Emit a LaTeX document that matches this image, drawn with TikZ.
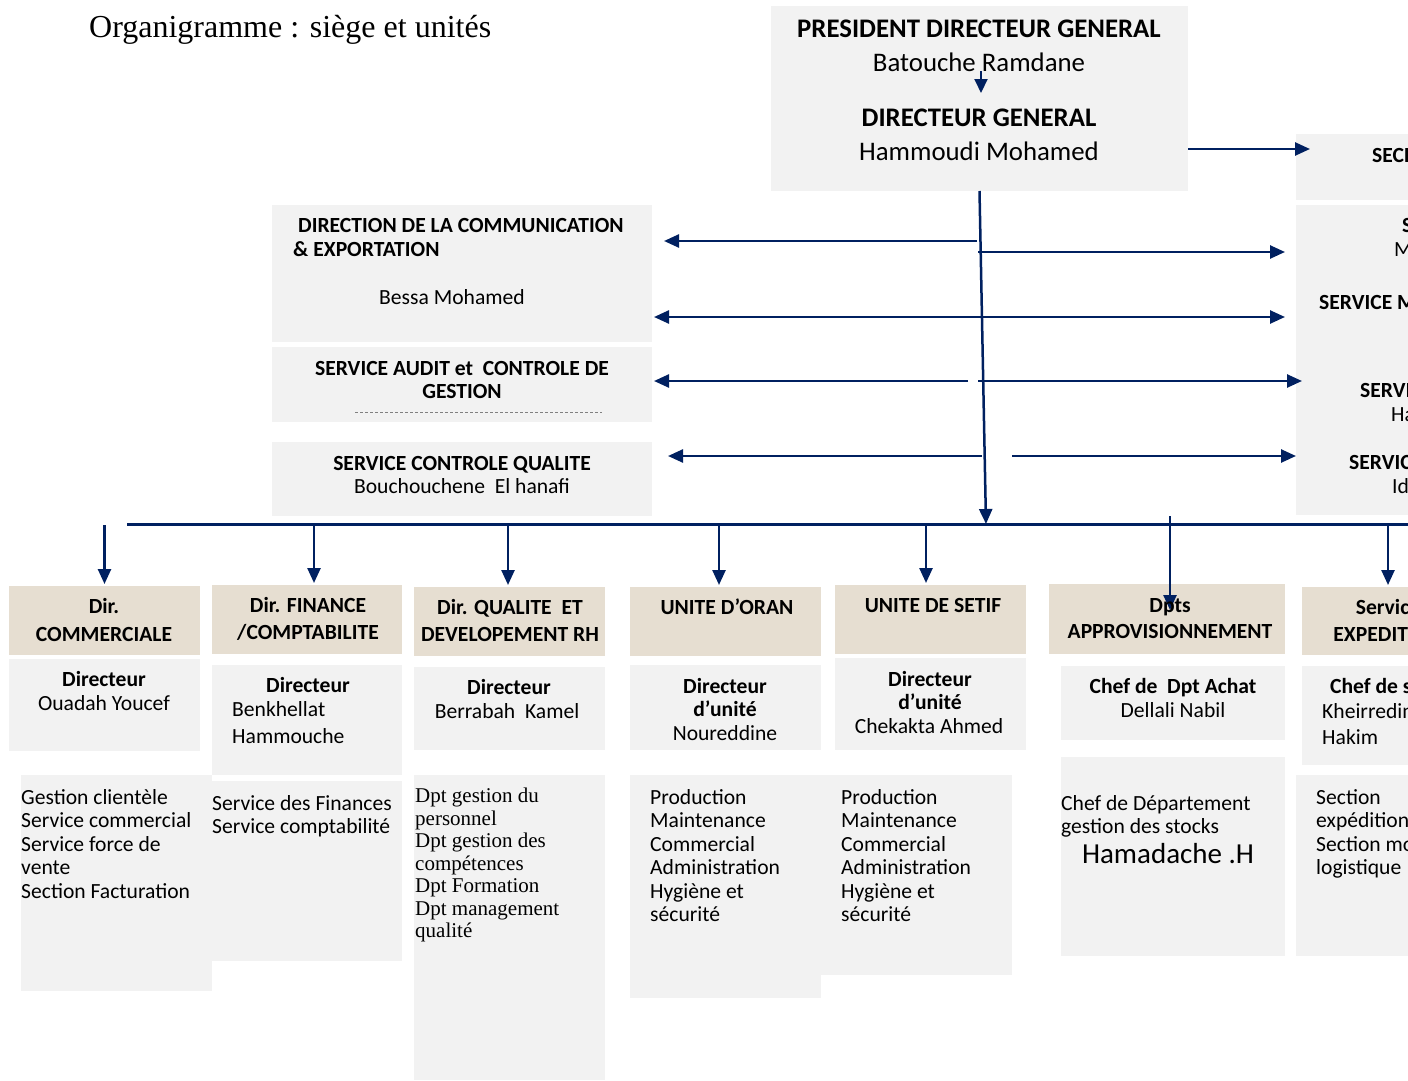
\documentclass[tikz,border=0pt]{standalone}
\usepackage{fontspec}
\setmainfont{Carlito}
\newfontfamily\seriffont{Liberation Serif}
\usetikzlibrary{arrows.meta,calc}
\definecolor{gris}{HTML}{F2F2F2}
\definecolor{beige}{HTML}{E6DED1}
\definecolor{bleu}{HTML}{002060}
\tikzset{
  boite/.style={fill=gris, inner sep=0pt, outer sep=0pt, anchor=north west},
  entete/.style={fill=beige, inner sep=0pt, outer sep=0pt, anchor=north west},
  txt/.style={inner sep=0pt, anchor=base, font=\fontsize{21.6}{24}\selectfont},
  gras/.style={txt, font=\fontsize{21.6}{24}\selectfont\bfseries},
  gtxt/.style={inner sep=0pt, anchor=base, font=\fontsize{26.8}{32}\selectfont},
  liste/.style={inner sep=0pt, anchor=north west, align=left, font=\fontsize{21.6}{23.5}\selectfont},
  fleche/.style={draw=bleu, line width=2.5pt, -{Triangle[length=15pt,width=13pt]}},
}
\begin{document}
\begin{tikzpicture}[x=1pt, y=-1pt]
  \useasboundingbox (0,0) rectangle (1408,1081);
  \clip (0,0) rectangle (1408,1081);
  \node[inner sep=0pt, anchor=base west, font=\seriffont\fontsize{32}{38}\selectfont] (titre) at (89,38) {Organigramme : siège et unités};
  % direction generale
  \node[boite, minimum width=417pt, minimum height=185pt] (pdg) at (771,6) {};
  \node[gtxt, font=\fontsize{26.8}{32}\selectfont\bfseries] (pdgt) at (979,38) {PRESIDENT DIRECTEUR GENERAL};
  \node[gtxt] (pdgn) at (979,72) {Batouche Ramdane};
  \node[gtxt, font=\fontsize{26.8}{32}\selectfont\bfseries] (dgt) at (979,126) {DIRECTEUR GENERAL};
  \node[gtxt] (dgn) at (979,160) {Hammoudi Mohamed};
  \draw[draw=bleu, line width=2pt, -{Triangle[length=14pt,width=13pt]}] (981,71) -- (981,93);
  % services a droite
  \node[boite, minimum width=160pt, minimum height=66pt] (secr) at (1296,134) {};
  \node[boite, minimum width=160pt, minimum height=310pt] (servd) at (1296,205) {};
  \node[gras, anchor=base west] (secrt) at (1372,162) {SECRETARIAT};
  \node[gras, anchor=base west] (sd1) at (1402,232) {SERVICE};
  \node[txt, anchor=base west] (sd1n) at (1394,256) {M};
  \node[gras, anchor=base west] (sd2) at (1319,309) {SERVICE MOYENS};
  \node[gras, anchor=base west] (sd3) at (1360,397) {SERVICE};
  \node[txt, anchor=base west] (sd3n) at (1391,421) {Ha};
  \node[gras, anchor=base west] (sd4) at (1349,469) {SERVICE};
  \node[txt, anchor=base west] (sd4n) at (1392,493) {Id};
  % services a gauche
  \node[boite, minimum width=380pt, minimum height=137pt] (dircom) at (272,205) {};
  \node[gras, anchor=base west] (dircomt) at (298,232) {DIRECTION DE LA COMMUNICATION};
  \node[gras, anchor=base west] (dircomt2) at (293,256) {\& EXPORTATION};
  \node[txt] (dircomn) at (452,304) {Bessa Mohamed};
  \node[boite, minimum width=380pt, minimum height=75pt] (audit) at (272,347) {};
  \node[gras] (auditt) at (462,375) {SERVICE AUDIT et\ \ CONTROLE DE};
  \node[gras] (auditt2) at (462,398) {GESTION};
  \draw[gray, line width=0.8pt, dash pattern=on 3pt off 2pt] (355,412) -- (602,412);
  \node[boite, minimum width=380pt, minimum height=74pt] (cqual) at (272,442) {};
  \node[gras] (cqualt) at (462,470) {SERVICE CONTROLE QUALITE};
  \node[txt] (cqualn) at (462,493) {Bouchouchene\ \ El hanafi};
  % liaisons
  \coordinate (bus) at (986,524);
  \draw[fleche] (pdg.south) -- (bus);
  \draw[fleche] (1188,149) -- (1310,149);
  \foreach \ya/\xa/\xb in {241/977/664, 317/978/654, 381/968/654, 456/982/668}
    \draw[fleche] (\xa,\ya) -- (\xb,\ya);
  \foreach \ya/\xa/\xb in {252/978/1285, 317/958/1285, 381/978/1302, 456/1012/1296}
    \draw[fleche] (\xa,\ya) -- (\xb,\ya);
  \draw[bleu, line width=3pt] (127,524) -- (1420,524);
  % directions et unites
  \node[entete, minimum width=191pt, minimum height=69pt] (h1) at (9,586) {};
  \node[entete, minimum width=190pt, minimum height=69pt] (h2) at (212,585) {};
  \node[entete, minimum width=191pt, minimum height=69pt] (h3) at (414,587) {};
  \node[entete, minimum width=191pt, minimum height=69pt] (h4) at (630,587) {};
  \node[entete, minimum width=191pt, minimum height=69pt] (h5) at (835,585) {};
  \node[entete, minimum width=236pt, minimum height=70pt] (h6) at (1049,584) {};
  \node[entete, minimum width=172pt, minimum height=68pt] (h7) at (1302,587) {};
  \foreach \h/\dx in {h1/0, h2/7, h3/-1.5, h4/-6.5, h5/-4.5, h7/0}
    \draw[fleche] ($(\h.north)+(\dx,-61)$) -- ($(\h.north)+(\dx,-2)$);
  \draw[fleche] ($(h6.north)+(3,-68)$) -- ($(h6.north)+(3,26)$);
  \node[gras] at (104,613) {Dir.};
  \node[gras] at (104,641) {COMMERCIALE};
  \node[gras] at (308,612) {Dir. FINANCE};
  \node[gras] at (308,639) {/COMPTABILITE};
  \node[gras] at (510,614) {Dir. QUALITE\ \ ET};
  \node[gras] at (510,641) {DEVELOPEMENT RH};
  \node[gras] at (727,614) {UNITE D’ORAN};
  \node[gras] at (933,612) {UNITE DE SETIF};
  \node[gras] at (1170,612) {Dpts};
  \node[gras] at (1170,638) {APPROVISIONNEMENT};
  \node[gras] at (1388,614) {Service};
  \node[gras] at (1388,641) {EXPEDITION};
  % responsables
  \node[boite, minimum width=191pt, minimum height=92pt] (d1) at (9,659) {};
  \node[boite, minimum width=190pt, minimum height=110pt] (d2) at (212,665) {};
  \node[boite, minimum width=191pt, minimum height=83pt] (d3) at (414,667) {};
  \node[boite, minimum width=191pt, minimum height=85pt] (d4) at (630,665) {};
  \node[boite, minimum width=191pt, minimum height=92pt] (d5) at (835,658) {};
  \node[boite, minimum width=224pt, minimum height=74pt] (d6) at (1061,666) {};
  \node[boite, minimum width=140pt, minimum height=99pt] (d7) at (1302,666) {};
  \node[gras] at (104,686) {Directeur};
  \node[txt] at (104,710) {Ouadah Youcef};
  \node[gras] at (308,692) {Directeur};
  \node[txt, anchor=base west] at (232,716) {Benkhellat};
  \node[txt, anchor=base west] at (232,743) {Hammouche};
  \node[gras] at (509,694) {Directeur};
  \node[txt] at (507,718) {Berrabah\ \ Kamel};
  \node[gras] at (725,693) {Directeur};
  \node[gras] at (725,716) {d’unité};
  \node[txt] at (725,740) {Noureddine};
  \node[gras] at (930,686) {Directeur};
  \node[gras] at (930,709) {d’unité};
  \node[txt] at (929,733) {Chekakta Ahmed};
  \node[gras] at (1173,693) {Chef de\ \ Dpt Achat};
  \node[txt] at (1173,717) {Dellali Nabil};
  \node[gras, anchor=base west] at (1330,693) {Chef de service};
  \node[txt, anchor=base west] at (1322,718) {Kheirredine};
  \node[txt, anchor=base west] at (1322,744) {Hakim};
  % structures
  \node[boite, minimum width=191pt, minimum height=216pt] (l1) at (21,775) {};
  \node[boite, minimum width=190pt, minimum height=180pt] (l2) at (212,781) {};
  \node[boite, minimum width=191pt, minimum height=305pt] (l3) at (414,775) {};
  \node[boite, minimum width=191pt, minimum height=223pt] (l4) at (630,775) {};
  \node[boite, minimum width=191pt, minimum height=200pt] (l5) at (821,775) {};
  \node[boite, minimum width=224pt, minimum height=199pt] (l6) at (1061,757) {};
  \node[boite, minimum width=140pt, minimum height=181pt] (l7) at (1296,775) {};
  \node[liste] at (21,789) {Gestion clientèle\\Service commercial\\Service force de\\vente\\Section Facturation};
  \node[liste] at (212,795) {Service des Finances\\Service comptabilité};
  \node[liste, font=\seriffont\fontsize{21}{22.5}\selectfont] at (415,788) {Dpt gestion du\\personnel\\Dpt gestion des\\compétences\\Dpt Formation\\Dpt management\\qualité};
  \node[liste] at (650,789) {Production\\Maintenance\\Commercial\\Administration\\Hygiène et\\sécurité};
  \node[liste] at (841,789) {Production\\Maintenance\\Commercial\\Administration\\Hygiène et\\sécurité};
  \node[liste, font=\fontsize{21.6}{23}\selectfont] at (1061,795) {Chef de Département\\gestion des stocks};
  \node[txt, font=\fontsize{29}{34}\selectfont] at (1168,863) {Hamadache .H};
  \node[liste] at (1316,789) {Section\\expédition\\Section moyens\\logistique};
\end{tikzpicture}
\end{document}
